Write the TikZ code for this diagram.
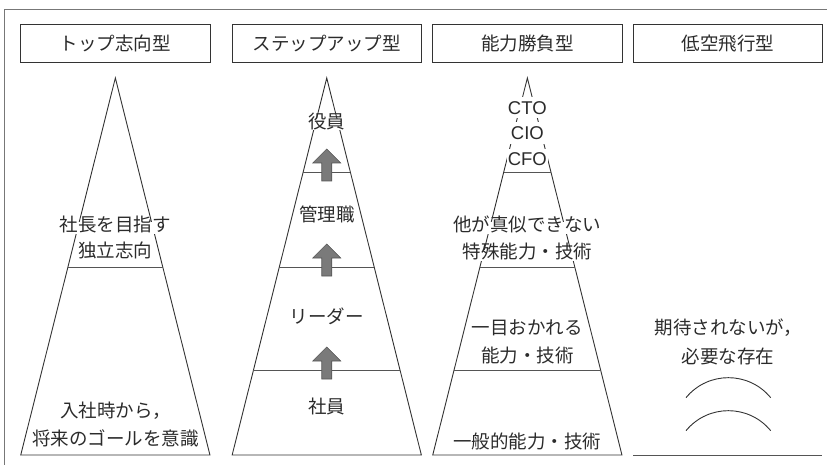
\documentclass[tikz,border=0pt]{standalone}
\usepackage{fontspec}
\setmainfont{Noto Sans CJK JP}
\newfontfamily\latinsans{Liberation Sans}
\usetikzlibrary{calc}
\definecolor{linec}{HTML}{333333}
\definecolor{divc}{HTML}{555555}
\definecolor{framec}{HTML}{777777}
\definecolor{textc}{HTML}{2B2B2B}
\definecolor{arrowc}{HTML}{7A7A7A}
\definecolor{arrowd}{HTML}{555555}
\begin{document}
\begin{tikzpicture}[x=1pt,y=-1pt,
  tri/.style={draw=linec, line width=0.9pt, line join=miter},
  divl/.style={draw=divc, line width=0.9pt},
  hdr/.style={draw=linec, line width=1pt, minimum width=189.5pt, minimum height=38pt,
    inner sep=0pt, font=\fontsize{18.5}{22}\selectfont, text=textc},
  lbl/.style={font=\fontsize{18.5}{22}\selectfont, text=textc, inner sep=0pt,
    text height=0.88em, text depth=0.12em},
  wlbl/.style={lbl, fill=white, inner xsep=0.5pt, inner ysep=0.5pt},
  elbl/.style={font=\latinsans\fontsize{18.5}{22}\selectfont, text=textc, fill=white,
    inner xsep=1pt, inner ysep=4pt, text height=13.3pt, text depth=0pt},
  upar/.style={fill=arrowc, draw=arrowd, line width=0.6pt},
  uparrow/.pic={\path[upar] (-5,9) -- (-5,-9) -- (-14,-9) -- (0,-23) -- (14,-9) -- (5,-9) -- (5,9) -- cycle;}
]
\useasboundingbox (0,0) rectangle (827,465);

% frame (top and left edges only)
\coordinate (fbl) at (4.7,465);
\coordinate (ftl) at (4.7,9.3);
\coordinate (ftr) at (827,9.3);
\draw[draw=framec, line width=1pt] (fbl) -- (ftl) -- (ftr);

% headers
\node[hdr] (h1) at (115.35,43.3) {トップ志向型};
\node[hdr] (h2) at (326.75,43.3) {ステップアップ型};
\node[hdr] (h3) at (527.35,43.3) {能力勝負型};
\node[hdr] (h4) at (728.15,43.3) {低空飛行型};

% triangles
\foreach \n/\cx in {1/115.35, 2/326.75, 3/527.35}{
  \coordinate (t\n a) at (\cx,78);
  \coordinate (t\n l) at ({\cx-94.6},455);
  \coordinate (t\n r) at ({\cx+94.6},455);
  \draw[tri] (t\n l) -- (t\n a) -- (t\n r) -- cycle;
}

% dividers
\draw[divl] ($(t1a)!0.5013!(t1l)$) -- ($(t1a)!0.5013!(t1r)$);
\foreach \f in {0.2493,0.5013,0.7745}{
  \draw[divl] ($(t2a)!\f!(t2l)$) -- ($(t2a)!\f!(t2r)$);
  \draw[divl] ($(t3a)!\f!(t3l)$) -- ($(t3a)!\f!(t3r)$);
}

% arrows in triangle 2
\pic at (326.75,172) {uparrow};
\pic at (326.75,267) {uparrow};
\pic at (326.75,370) {uparrow};

% triangle 1 labels
\node[wlbl] (a1) at (115.35,228) {社長を目指す};
\node[lbl] (a2) at (115.35,254) {独立志向};
\node[lbl] (a3) at (115.35,414) {入社時から，};
\node[lbl] (a4) at (115.35,442) {将来のゴールを意識};

% triangle 2 labels
\node[wlbl] (b1) at (326.75,125) {役員};
\node[lbl] (b2) at (326.75,218) {管理職};
\node[lbl] (b3) at (326.75,320) {リーダー};
\node[lbl] (b4) at (326.75,410) {社員};

% triangle 3 labels
\node[elbl] (c1) at (527.35,107.7) {CTO};
\node[elbl] (c2) at (527.35,133) {CIO};
\node[elbl] (c3) at (527.35,159.3) {CFO};
\node[wlbl] (c4) at (527.35,228) {他が真似できない};
\node[wlbl] (c5) at (527.35,255) {特殊能力・技術};
\node[lbl] (c6) at (527.35,331) {一目おかれる};
\node[lbl] (c7) at (527.35,359) {能力・技術};
\node[lbl] (c8) at (527.35,445) {一般的能力・技術};

% column 4
\node[lbl] (d1) at (728.15,331) {期待されないが，};
\node[lbl] (d2) at (728.15,360) {必要な存在};
\draw[tri] (686,397.7) .. controls (707.9,371.0) and (748.8,371.0) .. (770.7,397.7);
\draw[tri] (686,430.7) .. controls (707.9,404.0) and (748.8,404.0) .. (770.7,430.7);
\coordinate (g1) at (633.3,455);
\coordinate (g2) at (822,455);
\draw[divl] (g1) -- (g2);
\end{tikzpicture}
\end{document}
